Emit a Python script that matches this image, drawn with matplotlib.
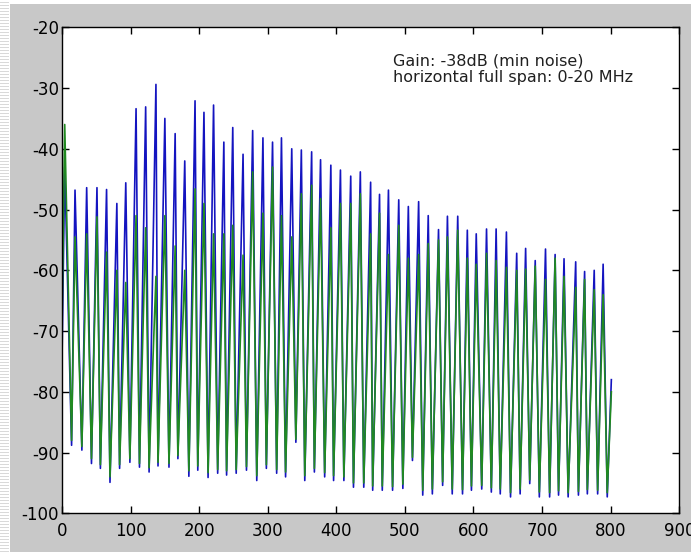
import numpy as np
import matplotlib.pyplot as plt
from matplotlib.patches import Rectangle

plt.rcParams['font.family'] = ['DejaVu Sans']
plt.rcParams['axes.unicode_minus'] = False

# sample index of each spectral peak
peak_x = [4, 19, 36, 51, 65, 80, 93, 108, 122, 137, 150, 165, 179, 194, 207, 221,
          236, 249, 264, 278, 293, 307, 320, 335, 349, 364, 377, 392, 406, 421, 435,
          450, 463, 476, 491, 505, 520, 534, 549, 562, 577, 591, 604, 619, 633, 648,
          663, 676, 690, 705, 719, 732, 749, 762, 776, 789]
# blue trace peak levels (dB)
blue_peak = [-43, -46.8, -46.4, -46.4, -46.7, -49, -45.6, -33.4, -33.1, -29.4, -35,
             -37.5, -42, -32.1, -34, -32.8, -38.9, -36.5, -40.9, -37, -38.2, -38.9,
             -38.2, -40, -40.2, -40.5, -41.8, -42.7, -43.5, -44.5, -43.8, -45.5, -47.5,
             -46.8, -48.4, -49.5, -48.7, -51, -53.3, -51.1, -51.1, -53.4, -54, -53.2,
             -53.2, -53.7, -57.2, -56.4, -58.4, -56.5, -57.4, -58.1, -58.6, -60.2, -60, -59]
# green trace peak levels (dB)
green_peak = [-36, -54.5, -54, -51.2, -57, -60, -62, -51, -53, -61, -51, -56, -60,
              -46.6, -49, -54, -54, -52.6, -57.5, -43.8, -50.6, -43, -51, -54.5, -47.4,
              -46, -48.2, -53, -49, -49, -47.4, -54, -50.6, -57.4, -52.6, -58, -57.4,
              -55.6, -55, -54.5, -53.4, -58, -59, -57.2, -58.4, -59.5, -60, -59.8, -59.3,
              -61.5, -58, -61, -62.8, -61.5, -63.2, -64]
# trough positions and levels following each peak
trough_x = [14, 29, 43, 56, 70, 84, 99, 113, 127, 140, 156, 169, 185, 198, 213, 227,
            240, 254, 269, 284, 298, 313, 326, 341, 354, 368, 383, 396, 411, 425, 440,
            453, 467, 482, 497, 511, 526, 540, 555, 569, 584, 597, 612, 626, 639, 654,
            668, 682, 696, 711, 724, 738, 753, 766, 781, 795]
blue_trough = [-88.8, -89.6, -91.8, -92.6, -94.9, -92.6, -91.6, -92.4, -93.2, -92.2,
               -92.4, -91.0, -93.9, -92.9, -94.1, -93.4, -93.7, -93.4, -92.9, -94.6,
               -92.6, -93.4, -94.0, -88.3, -94.6, -93.2, -94.0, -94.6, -94.6, -95.7,
               -95.7, -96.2, -96.2, -96.2, -95.9, -91.3, -97.0, -96.8, -95.4, -96.8,
               -96.8, -96.2, -96.0, -96.5, -96.8, -97.3, -96.8, -95.1, -97.3, -97.3,
               -97.0, -97.3, -97.0, -96.8, -96.8, -97.3]
green_trough = [-88.0, -89.0, -91.0, -92.0, -94.0, -92.0, -91.0, -91.8, -92.5, -91.6,
                -91.8, -90.5, -93.0, -92.2, -93.3, -92.8, -93.0, -92.8, -92.3, -93.8,
                -92.0, -92.8, -93.2, -87.8, -93.8, -92.6, -93.3, -93.8, -94.0, -95.0,
                -95.0, -95.5, -95.5, -95.6, -95.2, -90.8, -96.2, -96.0, -94.8, -96.0,
                -96.1, -95.5, -95.4, -95.8, -96.0, -96.6, -96.0, -94.5, -96.5, -96.6,
                -96.3, -96.6, -96.4, -96.1, -96.2, -96.6]
start_x, end_x = 0, 801
blue_ends = [-75, -78]
green_ends = [-70, -80]

xticks = list(range(0, 901, 100))
yticks = list(range(-100, -19, 10))


def trace(peaks, troughs, ends):
    xs = [start_x]
    ys = [ends[0]]
    for px, pv, tx, tv in zip(peak_x, peaks, trough_x, troughs):
        xs += [px, tx]
        ys += [pv, tv]
    xs.append(end_x)
    ys.append(ends[1])
    return np.array(xs), np.array(ys)


fig = plt.figure(figsize=(6.91, 5.52), dpi=100, facecolor='white')
# grey window background + striped left border
fig.patches.append(Rectangle((10 / 691, 0), 1, 1 - 4 / 552, transform=fig.transFigure,
                             facecolor='#c8c8c8', edgecolor='none', zorder=-10))
for yy in range(0, 552, 3):
    fig.patches.append(Rectangle((0, yy / 552), 9 / 691, 1.2 / 552, transform=fig.transFigure,
                                 facecolor='#d9d9d9', edgecolor='none', zorder=-10))

ax = fig.add_axes([0.0897, 0.0701, 0.8933, 0.8804])
ax.set_facecolor('white')

bx, by = trace(blue_peak, blue_trough, blue_ends)
gx, gy = trace(green_peak, green_trough, green_ends)
ax.plot(bx, by, color='#1414c0', lw=1.2)
ax.plot(gx, gy, color='#218a21', lw=1.2)

ax.set_xlim(0, 900)
ax.set_ylim(-100, -20)
ax.set_xticks(xticks)
ax.set_yticks(yticks)
ax.tick_params(direction='in', length=5, width=1, top=True, right=True,
               labelsize=12, colors='black')
ax.tick_params(axis='x', pad=6)
ax.tick_params(axis='y', pad=2)
for s in ax.spines.values():
    s.set_linewidth(1)

ax.text(482, -24.3, 'Gain: -38dB (min noise)\nhorizontal full span: 0-20 MHz',
        fontsize=11.5, va='top', ha='left', linespacing=1.15, color='#202020')

fig.savefig('out.png', dpi=100, facecolor=fig.get_facecolor())
